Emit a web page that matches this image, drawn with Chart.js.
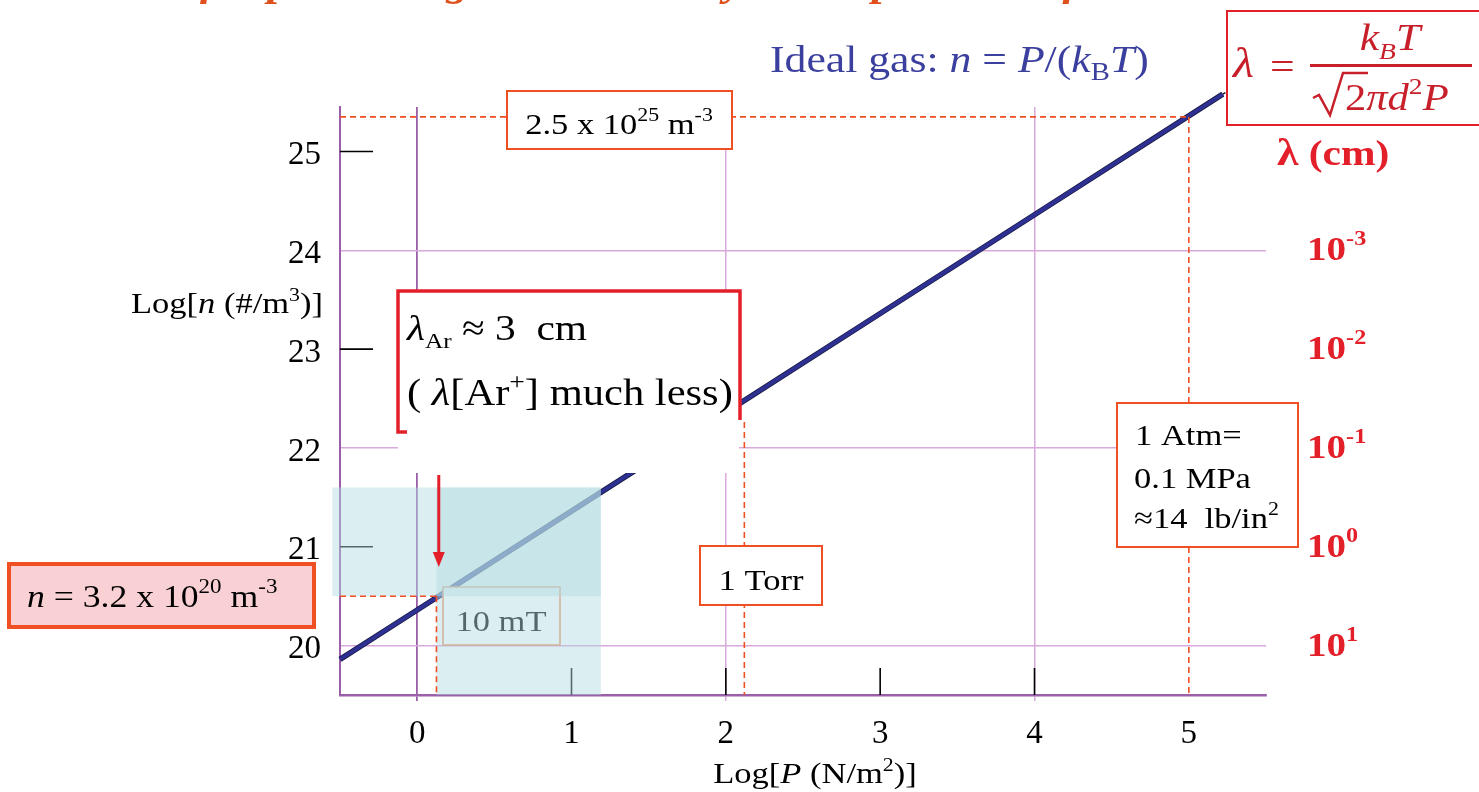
<!DOCTYPE html>
<html>
<head>
<meta charset="utf-8">
<script src="https://cdn.jsdelivr.net/npm/chart.js@4.4.1/dist/chart.umd.min.js"></script>
<style>
  html, body { margin: 0; padding: 0; background: #fff; }
  #wrap { width: 1479px; height: 792px; position: relative; }
</style>
</head>
<body>
<div id="wrap"><canvas id="myChart" width="1479" height="792"></canvas></div>
<script>
// data
const logP = [-0.5, 0, 1, 2, 3, 4, 5, 5.22];
const logN = [19.86, 20.36, 21.36, 22.36, 23.36, 24.36, 25.36, 25.58];
const tailP = [5.22, 5.31];
const tailN = [25.58, 25.66];

const xTicks = [0, 1, 2, 3, 4, 5];
const yTicks = [20, 21, 22, 23, 24, 25];
const xGridAt = [2, 4];
const yGridAt = [20, 22, 24];
const xShortTicks = [1, 2, 3, 4];
const yShortTicks = [21, 23, 25];

// mean free path scale on the right (cm), at log n = 20..24
const lambdaAt = [20, 21, 22, 23, 24];
const lambdaExp = ['1', '0', '-1', '-2', '-3'];

// marked pressures
const p10mT = 0.125, n10mT = 20.5;
const p1Torr = 2.12;
const p1Atm = 5.0, n1Atm = 25.35;

const FAM = '"Liberation Serif", "Times New Roman", serif';
const SX = 1.15; // slide text is a bit wide
const AXIS = '#9a5fa8';
const PINK = '#d9a8dc';
const NAVY = '#2e3192';
const RED = '#e3202a';
const ORANGE = '#f04e23';

function f(size, style) { return (style || '') + ' ' + size + 'px ' + FAM; }

function drawRuns(ctx, x, y, parts, align, color) {
  let w = 0;
  parts.forEach(p => { ctx.font = p.f; w += ctx.measureText(p.t).width; });
  w *= SX;
  let cx = align === 'right' ? x - w : align === 'center' ? x - w / 2 : x;
  ctx.save();
  ctx.translate(cx, y);
  ctx.scale(SX, 1);
  ctx.textAlign = 'left';
  ctx.textBaseline = 'alphabetic';
  let lx = 0;
  parts.forEach(p => {
    ctx.font = p.f;
    ctx.fillStyle = p.c || color;
    ctx.fillText(p.t, lx, p.dy || 0);
    lx += ctx.measureText(p.t).width;
  });
  ctx.restore();
}

function box(ctx, x, y, w, h, stroke, lw, fill) {
  if (fill) { ctx.fillStyle = fill; ctx.fillRect(x, y, w, h); }
  ctx.strokeStyle = stroke; ctx.lineWidth = lw;
  ctx.strokeRect(x, y, w, h);
}

function dashed(ctx, x1, y1, x2, y2) {
  ctx.save();
  ctx.strokeStyle = ORANGE; ctx.lineWidth = 1.6; ctx.setLineDash([6, 4]);
  ctx.beginPath(); ctx.moveTo(x1, y1); ctx.lineTo(x2, y2); ctx.stroke();
  ctx.restore();
}

const under = {
  id: 'under',
  beforeDatasetsDraw(chart) {
    const { ctx, chartArea: a, scales: { x, y } } = chart;
    ctx.save();
    ctx.strokeStyle = '#000'; ctx.lineWidth = 1.6;
    yShortTicks.forEach(v => {
      ctx.beginPath(); ctx.moveTo(a.left, y.getPixelForValue(v)); ctx.lineTo(a.left + 33, y.getPixelForValue(v)); ctx.stroke();
    });
    xShortTicks.forEach(v => {
      ctx.beginPath(); ctx.moveTo(x.getPixelForValue(v), a.bottom); ctx.lineTo(x.getPixelForValue(v), a.bottom - 27); ctx.stroke();
    });
    ctx.restore();
  }
};

const notes = {
  id: 'notes',
  afterDatasetsDraw(chart) {
    const { ctx, chartArea: a, scales: { x, y } } = chart;
    ctx.save();

    // 10 mT label (sits under the blue shading)
    box(ctx, 443, 587, 117, 58, '#f08a5a', 1.5, '#fff');
    drawRuns(ctx, 501, 631, [{ t: '10 mT', f: f(30) }], 'center', '#000');

    // shaded pressure range
    ctx.fillStyle = 'rgba(178,219,225,0.47)';
    const r1 = [x.getPixelForValue(-0.55), y.getPixelForValue(21.6), x.getPixelForValue(1.19), y.getPixelForValue(20.5)];
    ctx.fillRect(r1[0], r1[1], r1[2] - r1[0], r1[3] - r1[1]);
    const r2 = [x.getPixelForValue(p10mT), y.getPixelForValue(21.6), x.getPixelForValue(1.19), a.bottom];
    ctx.fillRect(r2[0], r2[1], r2[2] - r2[0], r2[3] - r2[1]);

    // dashed guide lines
    dashed(ctx, a.left, y.getPixelForValue(n1Atm), x.getPixelForValue(p1Atm), y.getPixelForValue(n1Atm));
    dashed(ctx, x.getPixelForValue(p1Atm), y.getPixelForValue(n1Atm), x.getPixelForValue(p1Atm), a.bottom);
    dashed(ctx, a.left, y.getPixelForValue(n10mT), x.getPixelForValue(p10mT), y.getPixelForValue(n10mT));
    dashed(ctx, x.getPixelForValue(p10mT), y.getPixelForValue(n10mT), x.getPixelForValue(p10mT), a.bottom);
    dashed(ctx, x.getPixelForValue(p1Torr), 422, x.getPixelForValue(p1Torr), a.bottom);

    // lambda_Ar box with white backing
    ctx.fillStyle = '#fff';
    ctx.fillRect(398, 290, 341, 183);
    ctx.strokeStyle = RED; ctx.lineWidth = 3.5;
    ctx.beginPath();
    ctx.moveTo(407, 432); ctx.lineTo(398, 432); ctx.lineTo(398, 291); ctx.lineTo(740, 291); ctx.lineTo(740, 420);
    ctx.stroke();
    drawRuns(ctx, 407, 340, [
      { t: 'λ', f: f(36, 'italic') },
      { t: 'Ar', f: f(22), dy: 8 },
      { t: ' ≈ 3  cm', f: f(36) }
    ], 'left', '#000');
    drawRuns(ctx, 407, 405, [
      { t: '( ', f: f(37) },
      { t: 'λ', f: f(37, 'italic') },
      { t: '[Ar', f: f(37) },
      { t: '+', f: f(24), dy: -16 },
      { t: '] much less)', f: f(37) }
    ], 'left', '#000');

    // red arrow down to 10 mT
    const ax = x.getPixelForValue(0.14);
    ctx.strokeStyle = RED; ctx.fillStyle = RED; ctx.lineWidth = 3;
    ctx.beginPath(); ctx.moveTo(ax, 475); ctx.lineTo(ax, 555); ctx.stroke();
    ctx.beginPath(); ctx.moveTo(ax - 6, 552); ctx.lineTo(ax + 6, 552); ctx.lineTo(ax, 567); ctx.closePath(); ctx.fill();

    // 2.5e25 box
    box(ctx, 507, 91, 225, 58, ORANGE, 2, '#fff');
    drawRuns(ctx, 619, 134, [
      { t: '2.5 x 10', f: f(30) }, { t: '25', f: f(19), dy: -13 },
      { t: ' m', f: f(30) }, { t: '-3', f: f(19), dy: -13 }
    ], 'center', '#000');

    // n = 3.2e20 box
    box(ctx, 9, 564, 305, 63, ORANGE, 4, '#f9d0d3');
    drawRuns(ctx, 27, 607, [
      { t: 'n', f: f(31, 'italic') }, { t: ' = 3.2 x 10', f: f(31) }, { t: '20', f: f(20), dy: -14 },
      { t: ' m', f: f(31) }, { t: '-3', f: f(20), dy: -14 }
    ], 'left', '#000');

    // 1 Torr box
    box(ctx, 700, 546, 122, 59, ORANGE, 2, '#fff');
    drawRuns(ctx, 761, 590, [{ t: '1 Torr', f: f(30) }], 'center', '#000');

    // 1 Atm box
    box(ctx, 1117, 403, 181, 144, ORANGE, 2, '#fff');
    drawRuns(ctx, 1135, 445, [{ t: '1 Atm=', f: f(30) }], 'left', '#000');
    drawRuns(ctx, 1134, 488, [{ t: '0.1 MPa', f: f(30) }], 'left', '#000');
    drawRuns(ctx, 1134, 528, [{ t: '≈14  lb/in', f: f(30) }, { t: '2', f: f(19), dy: -13 }], 'left', '#000');

    ctx.restore();
  },
  afterDraw(chart) {
    const { ctx, scales: { y } } = chart;
    ctx.save();

    // cut-off slide title
    drawRuns(ctx, 30, -5, [{ t: 'Plasmas for processing: Substantially lower pressures for the tool', f: f(40, 'italic bold'), c: '#e0501c' }], 'left');

    // axis titles
    drawRuns(ctx, 323, 313, [
      { t: 'Log[', f: f(30) }, { t: 'n', f: f(30, 'italic') }, { t: ' (#/m', f: f(30) },
      { t: '3', f: f(19), dy: -12 }, { t: ')]', f: f(30) }
    ], 'right', '#000');
    drawRuns(ctx, 815, 783, [
      { t: 'Log[', f: f(30) }, { t: 'P', f: f(30, 'italic') }, { t: ' (N/m', f: f(30) },
      { t: '2', f: f(19), dy: -12 }, { t: ')]', f: f(30) }
    ], 'center', '#000');

    // right scale: mean free path
    lambdaAt.forEach((v, i) => {
      drawRuns(ctx, 1307, y.getPixelForValue(v) + 10, [
        { t: '10', f: f(34, 'bold') }, { t: lambdaExp[i], f: f(21, 'bold'), dy: -15 }
      ], 'left', RED);
    });
    drawRuns(ctx, 1277, 165, [{ t: 'λ', f: f(38, 'bold') }, { t: ' (cm)', f: f(36, 'bold') }], 'left', RED);

    // ideal gas law
    drawRuns(ctx, 770, 72, [
      { t: 'Ideal gas: ', f: f(38) }, { t: 'n', f: f(38, 'italic') }, { t: ' = ', f: f(38) },
      { t: 'P', f: f(38, 'italic') }, { t: '/(', f: f(38) }, { t: 'k', f: f(38, 'italic') },
      { t: 'B', f: f(25), dy: 8 }, { t: 'T', f: f(38, 'italic') }, { t: ')', f: f(38) }
    ], 'left', '#3b3f9e');

    // mean free path formula
    ctx.fillStyle = '#fff';
    ctx.fillRect(1227, 11, 260, 113);
    ctx.strokeStyle = RED; ctx.lineWidth = 2;
    ctx.strokeRect(1227, 11, 270, 114);
    drawRuns(ctx, 1233, 77, [{ t: 'λ', f: f(42, 'italic') }], 'left', '#c8202a');
    drawRuns(ctx, 1270, 79, [{ t: '=', f: f(38) }], 'left', '#c8202a');
    ctx.fillStyle = '#c8202a';
    ctx.fillRect(1310, 64, 162, 3);
    drawRuns(ctx, 1390, 50, [
      { t: 'k', f: f(38, 'italic') }, { t: 'B', f: f(24, 'italic'), dy: 9 }, { t: 'T', f: f(38, 'italic') }
    ], 'center', '#c8202a');
    ctx.strokeStyle = '#c8202a'; ctx.lineWidth = 2.5;
    ctx.beginPath();
    ctx.moveTo(1313, 98); ctx.lineTo(1319, 95); ctx.lineTo(1330, 115); ctx.lineTo(1343, 73); ctx.lineTo(1368, 73);
    ctx.stroke();
    drawRuns(ctx, 1345, 110, [
      { t: '2', f: f(37) }, { t: 'π', f: f(37, 'italic') }, { t: 'd', f: f(37, 'italic') },
      { t: '2', f: f(24), dy: -16 }, { t: 'P', f: f(37, 'italic') }
    ], 'left', '#c8202a');

    ctx.restore();
  }
};

new Chart(document.getElementById('myChart'), {
  type: 'scatter',
  data: {
    datasets: [
      {
        // n = P/(kB T) at room temperature
        data: logP.map((p, i) => ({ x: p, y: logN[i] })),
        showLine: true,
        borderColor: NAVY,
        borderWidth: 4,
        pointRadius: 0,
        clip: false,
        order: 0
      },
      {
        // thin dark edge under the line
        data: logP.map((p, i) => ({ x: p, y: logN[i] })),
        showLine: true,
        borderColor: '#15173f',
        borderWidth: 5.5,
        pointRadius: 0,
        clip: false,
        order: 1
      },
      {
        data: tailP.map((p, i) => ({ x: p, y: tailN[i] })),
        showLine: true,
        borderColor: '#111',
        borderWidth: 1.5,
        borderDash: [3, 3],
        pointRadius: 0,
        clip: false,
        order: 2
      }
    ]
  },
  options: {
    responsive: false,
    animation: false,
    layout: { padding: { left: 270, right: 213, top: 107, bottom: 0 } },
    plugins: { legend: { display: false }, tooltip: { enabled: false } },
    scales: {
      x: {
        type: 'linear',
        min: -0.5,
        max: 5.5,
        afterBuildTicks: s => { s.ticks = xTicks.map(v => ({ value: v })); },
        afterFit: s => { s.height = 97; },
        grid: {
          color: c => c.tick && c.tick.value === 0 ? AXIS : (c.tick && xGridAt.includes(c.tick.value) ? PINK : 'rgba(0,0,0,0)'),
          lineWidth: c => c.tick && c.tick.value === 0 ? 1.8 : 1.5,
          drawTicks: true,
          tickLength: 6
        },
        border: { display: true, color: AXIS, width: 2.5 },
        ticks: { color: '#000', font: { family: FAM, size: 33 }, padding: 14, maxRotation: 0 }
      },
      y: {
        type: 'linear',
        min: 19.5,
        max: 25.45,
        afterBuildTicks: s => { s.ticks = yTicks.map(v => ({ value: v })); },
        afterFit: s => { s.width = 70; },
        grid: {
          color: c => c.tick && yGridAt.includes(c.tick.value) ? PINK : 'rgba(0,0,0,0)',
          lineWidth: 1.5,
          drawTicks: false
        },
        border: { display: true, color: AXIS, width: 2 },
        ticks: { color: '#000', font: { family: FAM, size: 33 }, padding: 19, labelOffset: 4 }
      }
    }
  },
  plugins: [under, notes]
});
</script>
</body>
</html>
